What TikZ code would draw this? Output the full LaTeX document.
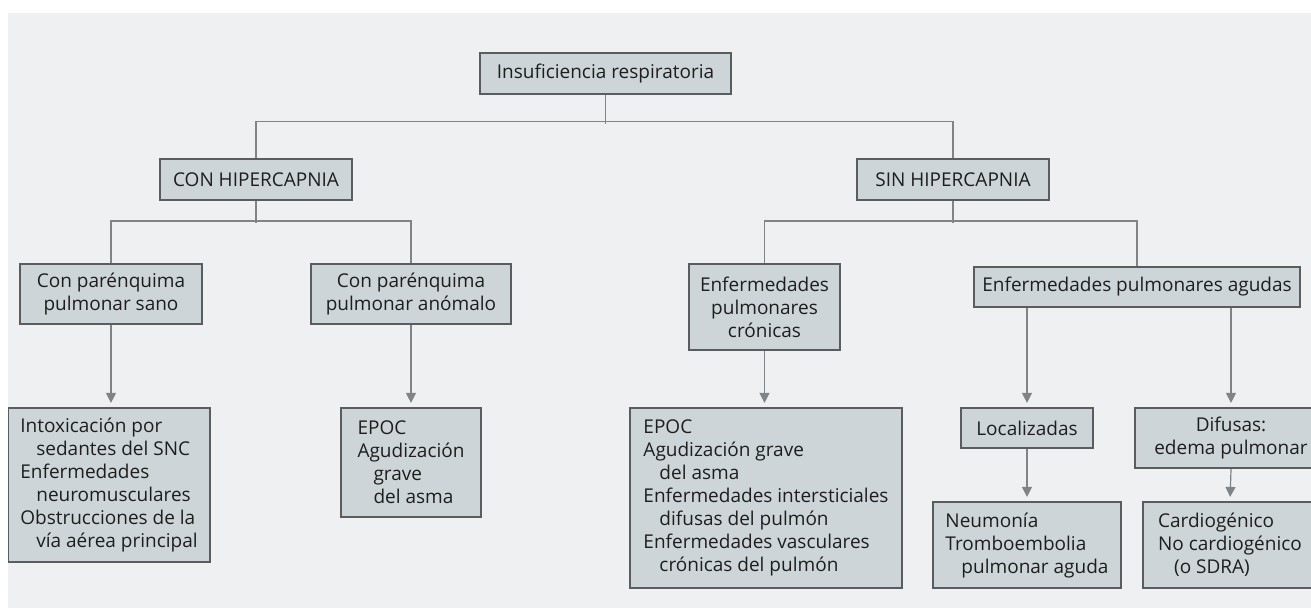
\documentclass[tikz,border=0pt]{standalone}
\usepackage{fontspec}
\setmainfont{Open Sans}
\usepackage{tikz}
\usetikzlibrary{arrows.meta}
\definecolor{bgcol}{HTML}{EEF0F2}
\definecolor{boxcol}{HTML}{CDD5D8}
\definecolor{edgecol}{HTML}{595D60}
\definecolor{linecol}{HTML}{808486}
\definecolor{txtcol}{HTML}{1E1E1E}

\begin{document}
\begin{tikzpicture}[x=0.5pt, y=-0.5pt,
        every node/.style={draw=edgecol, line width=1.1pt, fill=boxcol, text=txtcol, inner sep=0pt, align=center, font=\fontsize{9.5}{11.5}\selectfont},
        lbox/.style={align=left},
        link/.style={draw=linecol, line width=0.6pt},
        arr/.style={link, -{Triangle[width=5pt, length=5pt]}, shorten >=2pt}]
        \useasboundingbox (0,0) rectangle (1311,610);
        \clip (8,13) rectangle (1311,608);
        \fill[bgcol] (8,13) rectangle (1311,608);

        \node[minimum width=125.5pt, minimum height=20.5pt] (IR) at (605.5,73.5) {Insuficiencia respiratoria};
        \node[minimum width=96pt, minimum height=20.5pt] (CH) at (256,179.5) {CON HIPERCAPNIA};
        \node[minimum width=96pt, minimum height=20.5pt] (SH) at (953,179.5) {SIN HIPERCAPNIA};
        \node[minimum width=91pt, minimum height=30pt] (PS) at (111,294) {Con parénquima\\pulmonar sano};
        \node[minimum width=100pt, minimum height=30pt] (PA) at (411,294) {Con parénquima\\pulmonar anómalo};
        \node[minimum width=75.5pt, minimum height=43pt] (EC) at (764.5,307) {Enfermedades\\pulmonares\\crónicas};
        \node[minimum width=163pt, minimum height=20pt] (EA) at (1137,287) {Enfermedades pulmonares agudas};
        \node[lbox, minimum width=101pt, minimum height=77pt] (I1) at (109,485) {Intoxicación por\\\hspace*{8pt}sedantes del SNC\\Enfermedades\\\hspace*{8pt}neuromusculares\\Obstrucciones de la\\\hspace*{8pt}vía aérea principal};
        \node[lbox, minimum width=70pt, minimum height=54.5pt] (E1) at (411,462.5) {EPOC\\Agudización\\\hspace*{8pt}grave\\\hspace*{8pt}del asma};
        \node[lbox, minimum width=136pt, minimum height=90pt] (E2) at (766,498) {EPOC\\Agudización grave\\\hspace*{8pt}del asma\\Enfermedades intersticiales\\\hspace*{8pt}difusas del pulmón\\Enfermedades vasculares\\\hspace*{8pt}crónicas del pulmón};
        \node[minimum width=66pt, minimum height=20pt] (LO) at (1027,428) {Localizadas};
        \node[minimum width=96pt, minimum height=30pt] (DI) at (1231,438) {Difusas:\\edema pulmonar};
        \node[lbox, minimum width=94pt, minimum height=43pt] (NE) at (1027,545) {Neumonía\\Tromboembolia\\\hspace*{8pt}pulmonar aguda};
        \node[lbox, minimum width=87pt, minimum height=43pt] (CA) at (1230,545) {Cardiogénico\\No cardiogénico\\\hspace*{8pt}(o SDRA)};

        \draw[link] (IR.south) -- ++(0,29);
        \draw[link] (CH.north) -- ++(0,-36) -| (SH.north);
        \draw[link] (CH.south) -- ++(0,22);
        \draw[link] (PS.north) -- ++(0,-42) -| (PA.north);
        \draw[link] (SH.south) -- ++(0,22);
        \draw[link] (EC.north) -- ++(0,-42) -| (EA.north);

        \draw[arr] (PS.south) -- (PS.south |- I1.north);
        \draw[arr] (PA.south) -- (PA.south |- E1.north);
        \draw[arr] (EC.south) -- (EC.south |- E2.north);
        \draw[arr] (LO.north |- EA.south) -- (LO.north);
        \draw[arr] (DI.north |- EA.south) -- (DI.north);
        \draw[arr] (LO.south) -- (NE.north);
        \draw[arr] (DI.south) -- (CA.north);
    \end{tikzpicture}
\end{document}
